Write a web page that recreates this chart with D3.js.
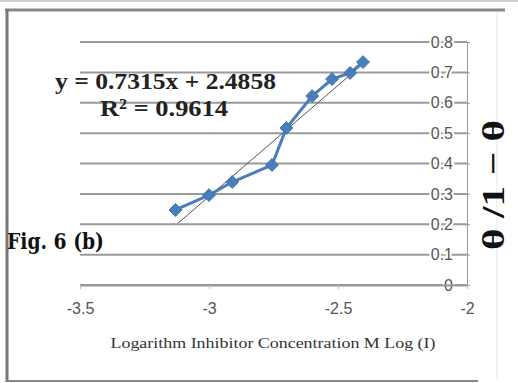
<!DOCTYPE html>
<html>
<head>
<meta charset="utf-8">
<script src="https://cdn.jsdelivr.net/npm/d3@7"></script>
<style>
  html, body { margin: 0; padding: 0; background: #fff; }
  svg { display: block; }
</style>
</head>
<body>
<svg id="chart" width="518" height="383"></svg>
<script>
// Data
const logConc = [-3.13, -3.0, -2.91, -2.756, -2.70, -2.60, -2.523, -2.453, -2.403];
const thetaRatio = [0.247, 0.296, 0.339, 0.395, 0.517, 0.622, 0.678, 0.698, 0.734];
const xTicks = [-3.5, -3, -2.5, -2];
const yTicks = [0, 0.1, 0.2, 0.3, 0.4, 0.5, 0.6, 0.7, 0.8];
const fitSlope = 0.7315, fitIntercept = 2.4858;
const fitRange = [-3.12, -2.40];

const svg = d3.select("#chart");
const width = +svg.attr("width"), height = +svg.attr("height");

// Frame around the figure
svg.append("line").attr("x1", 0).attr("x2", width).attr("y1", 1).attr("y2", 1)
  .attr("stroke", "#d0d0d0").attr("stroke-width", 2);
svg.append("line").attr("x1", 5).attr("x2", 505).attr("y1", 10).attr("y2", 10)
  .attr("stroke", "#888").attr("stroke-width", 3);
svg.append("line").attr("x1", 7).attr("x2", 7).attr("y1", 9).attr("y2", 382)
  .attr("stroke", "#777").attr("stroke-width", 3);
svg.append("line").attr("x1", 7).attr("x2", 478).attr("y1", 381).attr("y2", 381)
  .attr("stroke", "#888").attr("stroke-width", 2);
svg.append("line").attr("x1", 497).attr("x2", 497).attr("y1", 12).attr("y2", 380)
  .attr("stroke", "#e6e6e6").attr("stroke-width", 1);

// Scales
const x = d3.scaleLinear().domain([-3.5, -2]).range([80, 467]);
const y = d3.scaleLinear().domain([0, 0.8]).range([285, 42]);

// Gridlines
svg.append("g").selectAll("line").data(yTicks).join("line")
  .attr("x1", x(-3.5)).attr("x2", x(-2))
  .attr("y1", d => y(d)).attr("y2", d => y(d))
  .attr("stroke", "#9a9a9a").attr("stroke-width", 2);

// Right y axis
const yAxis = svg.append("g").attr("transform", `translate(${x(-2)},0)`)
  .call(d3.axisLeft(y).tickValues(yTicks).tickFormat(d => String(d)).tickSize(15).tickSizeOuter(0));
yAxis.select(".domain").attr("stroke", "#999");
yAxis.selectAll(".tick line").attr("stroke", "#999").attr("x2", 3);
yAxis.selectAll(".tick text")
  .attr("font-family", "Liberation Sans, Arial, sans-serif").attr("font-size", 16)
  .attr("fill", "#555").attr("x", -14)
  .attr("stroke", "#fff").attr("stroke-width", 4).attr("paint-order", "stroke");

// Bottom x axis
const xAxis = svg.append("g").attr("transform", `translate(0,${y(0)})`)
  .call(d3.axisBottom(x).tickValues(xTicks).tickFormat(d => String(d)).tickSize(4).tickSizeOuter(0));
xAxis.select(".domain").attr("stroke", "#999").attr("stroke-width", 2);
xAxis.selectAll(".tick line").attr("stroke", "#bbb");
xAxis.selectAll(".tick text")
  .attr("font-family", "Liberation Sans, Arial, sans-serif").attr("font-size", 16)
  .attr("fill", "#555").attr("dy", "1.35em");

// Linear trendline
svg.append("line")
  .attr("x1", x(fitRange[0])).attr("y1", y(fitSlope * fitRange[0] + fitIntercept))
  .attr("x2", x(fitRange[1])).attr("y2", y(fitSlope * fitRange[1] + fitIntercept))
  .attr("stroke", "#555").attr("stroke-width", 1);

// Series line and markers
const pts = logConc.map((v, i) => [v, thetaRatio[i]]);
svg.append("path").datum(pts)
  .attr("fill", "none").attr("stroke", "#4a7ebb").attr("stroke-width", 3)
  .attr("d", d3.line().x(d => x(d[0])).y(d => y(d[1])));
svg.append("g").selectAll("path").data(pts).join("path")
  .attr("transform", d => `translate(${x(d[0])},${y(d[1])})`)
  .attr("d", d3.symbol(d3.symbolDiamond2, 105))
  .attr("fill", "#4a7ebb").attr("stroke", "#3f72b0").attr("stroke-width", 1);

// Equation annotation
svg.append("text").attr("x", 55).attr("y", 89)
  .attr("font-family", "Liberation Serif, Times New Roman, serif").attr("font-weight", "bold")
  .attr("font-size", 24).attr("fill", "#222")
  .attr("textLength", 221).attr("lengthAdjust", "spacingAndGlyphs")
  .text("y = 0.7315x + 2.4858");
svg.append("text").attr("x", 100).attr("y", 116)
  .attr("font-family", "Liberation Serif, Times New Roman, serif").attr("font-weight", "bold")
  .attr("font-size", 24).attr("fill", "#222")
  .attr("textLength", 128).attr("lengthAdjust", "spacingAndGlyphs")
  .text("R² = 0.9614");

// Figure label
svg.append("text").attr("x", 7).attr("y", 249)
  .attr("font-family", "DejaVu Serif, serif").attr("font-weight", "bold")
  .attr("font-size", 22).attr("fill", "#111")
  .attr("textLength", 97).attr("lengthAdjust", "spacingAndGlyphs")
  .text("Fig. 6 (b)");

// Axis titles
svg.append("text").attr("x", 273).attr("y", 348).attr("text-anchor", "middle")
  .attr("font-family", "Liberation Serif, Times New Roman, serif")
  .attr("font-size", 14).attr("fill", "#333")
  .attr("textLength", 325).attr("lengthAdjust", "spacingAndGlyphs")
  .text("Logarithm Inhibitor Concentration M Log (I)");

svg.append("text")
  .attr("transform", "translate(504,185) rotate(-90)")
  .attr("text-anchor", "middle")
  .attr("font-family", "Liberation Serif, Times New Roman, serif").attr("font-weight", "bold")
  .attr("font-size", 32).attr("fill", "#111")
  .attr("textLength", 130).attr("lengthAdjust", "spacingAndGlyphs")
  .text("θ /1 − θ");
</script>
</body>
</html>
